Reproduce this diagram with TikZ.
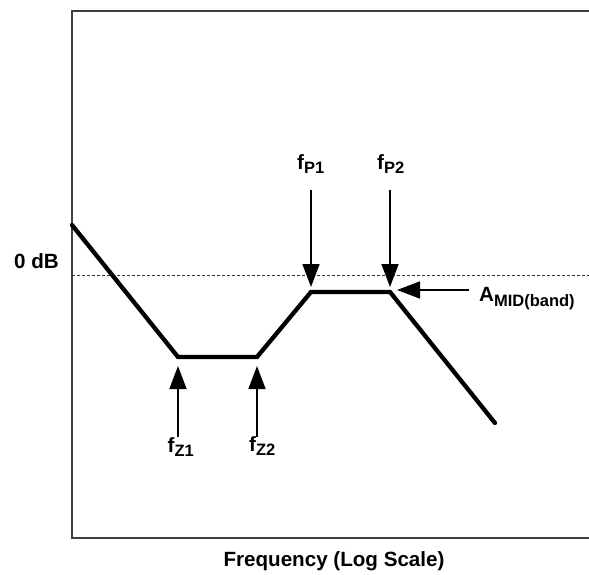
\documentclass[tikz,border=0pt]{standalone}
\usepackage{fontspec}
\setmainfont{Liberation Sans}
\usetikzlibrary{arrows.meta}
\newcommand{\mainsz}{\fontsize{20.6}{21}\selectfont\bfseries}
\newcommand{\subsz}[1]{\raisebox{-4.5pt}{\fontsize{16.5}{16.5}\selectfont\bfseries #1}}
\tikzset{
  frame/.style={line width=1.3pt, draw=black!75},
  zeroline/.style={line width=0.8pt, dash pattern=on 3pt off 2pt, draw=black!80},
  curve/.style={line width=4.3pt, line join=miter, line cap=round},
  pointer/.style={line width=1.5pt, -{Triangle[length=23pt,width=17pt]}},
  lbl/.style={inner sep=0pt, anchor=base west, font=\mainsz},
}
\begin{document}
\begin{tikzpicture}[x=1pt,y=-1pt]
\useasboundingbox (0,0) rectangle (589,575);
% frame
\coordinate (bl) at (72,538);
\coordinate (tl) at (72,11);
\coordinate (tr) at (590,11);
\coordinate (br) at (590,538);
\draw[frame] (tr) -- (tl) -- (bl) -- (br);
% 0 dB reference line
\coordinate (z0) at (72,275);
\coordinate (z1) at (590,275);
\draw[zeroline] (z0) -- (z1);
% response curve
\coordinate (c0) at (72,225);
\coordinate (c1) at (178,357);
\coordinate (c2) at (257,357);
\coordinate (c3) at (311,292);
\coordinate (c4) at (390,292);
\coordinate (c5) at (495,423);
\draw[curve] (c0) -- (c1) -- (c2) -- (c3) -- (c4) -- (c5);
% labels
\node[lbl] (odb) at (14,268.3) {0 dB};
\node[inner sep=0pt, anchor=base, font=\mainsz] (freq) at (334,566.7) {Frequency (Log Scale)};
\node[lbl] (fz1) at (167.5,452) {f\subsz{Z1}};
\node[lbl] (fz2) at (249,451) {f\subsz{Z2}};
\node[lbl] (fp1) at (297,169.5) {f\subsz{P1}};
\node[lbl] (fp2) at (377,169.5) {f\subsz{P2}};
\node[lbl] (amid) at (479,301.7) {A\subsz{MID(band)}};
% pointer arrows
\coordinate (az1s) at (178,437);
\coordinate (az1t) at (178,366);
\coordinate (az2s) at (257,437);
\coordinate (az2t) at (257,366);
\coordinate (ap1s) at (311,190);
\coordinate (ap1t) at (311,287);
\coordinate (ap2s) at (390,190);
\coordinate (ap2t) at (390,287);
\coordinate (ams) at (469,290);
\coordinate (amt) at (397,290);
\draw[pointer] (az1s) -- (az1t);
\draw[pointer] (az2s) -- (az2t);
\draw[pointer] (ap1s) -- (ap1t);
\draw[pointer] (ap2s) -- (ap2t);
\draw[pointer] (ams) -- (amt);
\end{tikzpicture}
\end{document}
